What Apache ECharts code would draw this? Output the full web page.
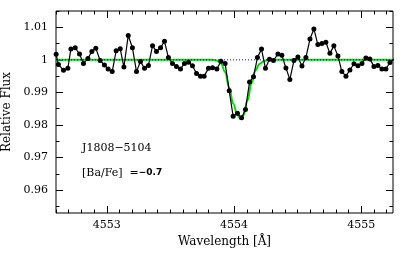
<!DOCTYPE html>
<html>
<head>
<meta charset="utf-8">
<script src="https://cdn.jsdelivr.net/npm/echarts@6/dist/echarts.min.js"></script>
<style>html,body{margin:0;padding:0;background:#fff}#c{width:409px;height:253px}</style>
</head>
<body>
<div id="c"></div>
<script>
// Observed spectrum (wavelength in Å, relative flux)
const wavelength = [4552.601,4552.619,4552.659,4552.693,4552.717,4552.751,4552.785,4552.816,4552.851,4552.882,
4552.913,4552.947,4552.981,4553.010,4553.042,4553.073,4553.105,4553.134,4553.168,4553.201,
4553.233,4553.264,4553.296,4553.327,4553.359,4553.390,4553.422,4553.453,4553.484,4553.516,
4553.547,4553.579,4553.610,4553.642,4553.673,4553.705,4553.736,4553.765,4553.799,4553.831,
4553.865,4553.897,4553.930,4553.962,4553.993,4554.027,4554.059,4554.090,4554.122,4554.153,
4554.184,4554.216,4554.247,4554.279,4554.310,4554.345,4554.376,4554.408,4554.439,4554.471,
4554.502,4554.534,4554.565,4554.597,4554.628,4554.659,4554.691,4554.722,4554.754,4554.785,
4554.817,4554.848,4554.880,4554.911,4554.943,4554.974,4555.006,4555.037,4555.068,4555.100,
4555.131,4555.163,4555.194,4555.226,4555.257];
const flux = [1.0017,0.9986,0.9968,0.9974,1.0033,1.0037,1.0018,0.9989,1.0004,1.0026,
1.0036,0.9998,0.9984,0.9972,0.9964,1.0028,1.0034,0.9978,1.0075,1.0037,
0.9964,0.9995,0.9974,0.9983,1.0043,1.0026,1.0037,1.0057,1.0007,0.9989,
0.9980,0.9972,0.9989,0.9993,0.9982,0.9958,0.9950,0.9950,0.9974,0.9976,
0.9972,0.9996,0.9989,0.9905,0.9827,0.9836,0.9822,0.9848,0.9932,0.9948,
1.0007,1.0033,0.9974,1.0002,0.9998,1.0018,1.0014,0.9975,0.9940,0.9998,
1.0009,0.9981,1.0007,1.0064,1.0095,1.0047,1.0050,1.0054,1.0020,1.0043,
1.0012,0.9964,0.9950,0.9969,0.9988,0.9982,0.9989,1.0006,1.0003,0.9980,
0.9983,0.9972,0.9972,0.9992,1.0002];

// Synthetic fit ([Ba/Fe] = -0.7)
const synthWave = [4552.6,4553.80,4553.831,4553.865,4553.897,4553.930,4553.962,4553.993,4554.027,4554.048,
4554.074,4554.106,4554.137,4554.169,4554.200,4554.232,4554.271,4554.30,4555.25];
const synthFlux = [1.0,1.0,1.0,0.9998,0.9989,0.9963,0.9915,0.9866,0.9830,0.9820,
0.9830,0.9876,0.9928,0.9968,0.9987,0.9996,1.0,1.0,1.0];

// Continuum
const contWave = [4552.6, 4555.25];
const contFlux = [1.0, 1.0];

// Axes
const xMin = 4552.6, xMax = 4555.25;
const yMin = 0.953, yMax = 1.015;
const xMajorTicks = [4553, 4554, 4555];
const yMajorTicks = [0.96, 0.97, 0.98, 0.99, 1.0, 1.01];
const xMinorTicks = [];
for (let t = 45526; t <= 45552; t++) xMinorTicks.push(t / 10);
const yMinorTicks = [];
for (let t = 191; t <= 203; t++) yMinorTicks.push(t * 5 / 1000);

const FONT = 'DejaVu Serif';
const chart = echarts.init(document.getElementById('c'), null, {renderer: 'canvas'});

function xAxisDef(pos, ticks, len, labels) {
  return {
    type: 'value', position: pos, min: xMin, max: xMax,
    axisLine: {show: false}, splitLine: {show: false},
    axisTick: {show: true, inside: true, length: len, customValues: ticks, lineStyle: {color: '#000', width: 1}},
    axisLabel: labels ? {show: true, customValues: xMajorTicks, margin: 7, color: '#000', fontFamily: FONT, fontSize: 11,
      formatter: v => String(Math.round(v))} : {show: false},
    name: labels ? 'Wavelength [Å]' : '',
    nameLocation: 'middle', nameGap: 23,
    nameTextStyle: {fontFamily: FONT, fontSize: 12, color: '#000'}
  };
}
function yAxisDef(pos, ticks, len, labels) {
  return {
    type: 'value', position: pos, min: yMin, max: yMax,
    axisLine: {show: false}, splitLine: {show: false},
    axisTick: {show: true, inside: true, length: len, customValues: ticks, lineStyle: {color: '#000', width: 1}},
    axisLabel: labels ? {show: true, customValues: yMajorTicks, margin: 8, color: '#000', fontFamily: FONT, fontSize: 11,
      formatter: v => String(+v.toFixed(2))} : {show: false},
    name: labels ? 'Relative Flux' : '',
    nameLocation: 'middle', nameGap: 42, nameRotate: 90,
    nameTextStyle: {fontFamily: FONT, fontSize: 12, color: '#000'}
  };
}

chart.setOption({
  animation: false,
  backgroundColor: '#fff',
  grid: {left: 56, right: 16, top: 11, bottom: 40, show: true, borderColor: '#000', borderWidth: 1,
    backgroundColor: 'transparent', containLabel: false, outerBoundsMode: 'none'},
  xAxis: [
    xAxisDef('bottom', xMajorTicks, 7, true),
    xAxisDef('bottom', xMinorTicks, 3.5, false),
    xAxisDef('top', xMajorTicks, 7, false),
    xAxisDef('top', xMinorTicks, 3.5, false)
  ],
  yAxis: [
    yAxisDef('left', yMajorTicks, 7, true),
    yAxisDef('left', yMinorTicks, 3.5, false),
    yAxisDef('right', yMajorTicks, 7, false),
    yAxisDef('right', yMinorTicks, 3.5, false)
  ],
  series: [
    {
      type: 'line', name: 'synthetic', xAxisIndex: 0, yAxisIndex: 0,
      data: synthWave.map((w, i) => [w, synthFlux[i]]),
      showSymbol: false, smooth: 0.4, smoothMonotone: 'x',
      lineStyle: {color: '#00dd00', width: 2}, z: 2
    },
    {
      type: 'line', name: 'continuum', xAxisIndex: 0, yAxisIndex: 0,
      data: contWave.map((w, i) => [w, contFlux[i]]),
      showSymbol: false,
      lineStyle: {color: '#0000ff', width: 1, type: [1, 2]}, z: 3
    },
    {
      type: 'line', name: 'observed', xAxisIndex: 0, yAxisIndex: 0,
      data: wavelength.map((w, i) => [w, flux[i]]),
      symbol: 'circle', symbolSize: 5, clip: true,
      itemStyle: {color: '#000'},
      lineStyle: {color: '#000', width: 1.2}, z: 4
    }
  ],
  graphic: [
    {type: 'text', x: 82, y: 148, style: {text: 'J1808−5104', fontFamily: FONT, fontSize: 11, fill: '#000', verticalAlign: 'middle'}},
    {type: 'text', x: 82, y: 173, style: {
      text: '{a|[Ba/Fe]  =}{b|−0.7}', verticalAlign: 'middle',
      rich: {
        a: {fontFamily: FONT, fontSize: 11, fill: '#000', color: '#000'},
        b: {fontFamily: 'DejaVu Sans', fontSize: 9, fontWeight: 'bold', fill: '#000', color: '#000'}
      }
    }}
  ]
});
</script>
</body>
</html>
